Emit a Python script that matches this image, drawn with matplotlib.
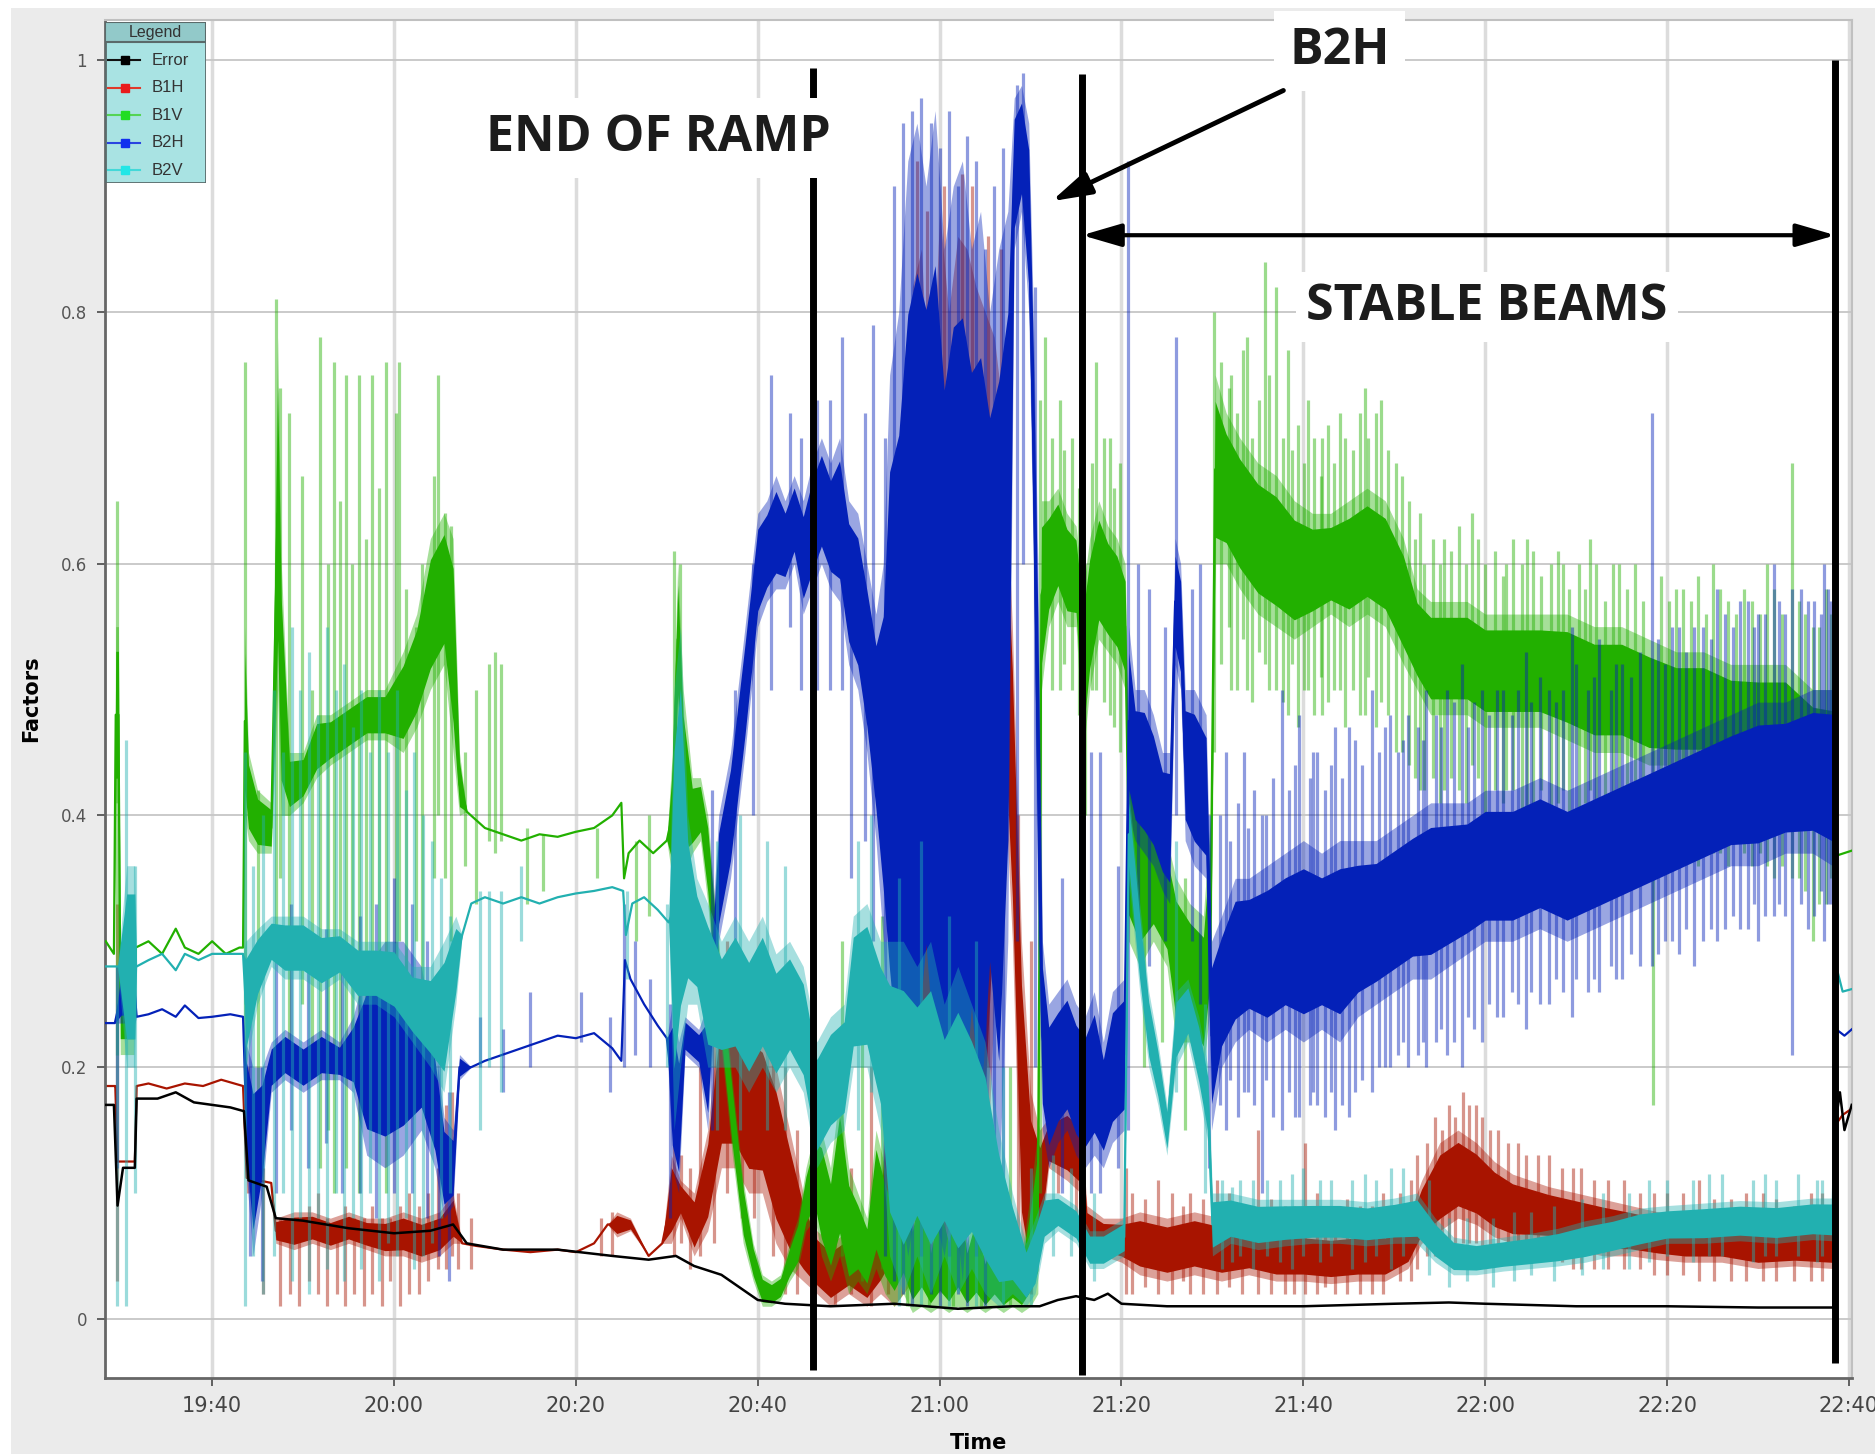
import matplotlib
matplotlib.use('Agg')
import matplotlib.pyplot as plt
import numpy as np
from matplotlib.patches import Rectangle

# ---------------- DATA (time in minutes after 19:00) ----------------
err_t = [28.3, 29.2, 29.6, 30.2, 31.5, 31.7, 34, 36, 38, 40, 42, 43.5, 44.0, 46, 47, 50, 55, 60, 64, 66.5,
         68, 72, 78, 84, 88, 91, 93, 96, 98, 100, 103, 108, 115, 122, 128, 131, 133, 135, 137, 138.5,
         140, 145, 150, 160, 170, 176, 180, 190, 200, 210, 218.3, 218.6, 219, 219.5, 220.3]
err_v = [0.17, 0.17, 0.09, 0.12, 0.12, 0.175, 0.175, 0.18, 0.172, 0.17, 0.168, 0.165, 0.11, 0.105, 0.08,
         0.078, 0.072, 0.068, 0.07, 0.075, 0.06, 0.055, 0.055, 0.05, 0.047, 0.05, 0.042, 0.035, 0.025,
         0.015, 0.012, 0.01, 0.012, 0.008, 0.01, 0.01, 0.015, 0.018, 0.015, 0.02, 0.012, 0.01, 0.01, 0.01,
         0.012, 0.013, 0.012, 0.01, 0.01, 0.009, 0.009, 0.16, 0.18, 0.15, 0.17]

# B1H (red): band envelope
b1h_t = [28.3, 29.2, 29.35, 29.6, 31.5, 31.7, 33, 35, 37, 39, 41, 43.4, 43.8, 46.5, 47, 49, 51, 53, 55, 57,
         59, 61, 63, 65, 66.5, 67.5, 69, 72, 75, 78, 80, 82, 83.5, 84.5, 86, 88, 89.5, 90.5, 91.5, 93,
         94.5, 96, 97.5, 99, 100.5, 102, 103.5, 105, 106.5, 108, 110, 112, 113.5, 115, 116, 117, 118,
         119, 120, 121, 122, 123, 124, 125, 126, 127, 128, 129, 130, 131, 132, 134, 135.5, 136.2, 138,
         140, 142, 145, 148, 151, 154, 157, 160, 163, 166, 169, 171.5, 173, 175, 177, 179, 181, 183,
         185, 187, 190, 193, 196, 199, 202, 206, 210, 214, 218.2, 218.6, 219.3, 220.3]
b1h_lo = [0.185, 0.185, 0.185, 0.125, 0.125, 0.185, 0.187, 0.183, 0.187, 0.185, 0.19, 0.185, 0.112, 0.108,
          0.06, 0.055, 0.06, 0.055, 0.06, 0.055, 0.05, 0.05, 0.045, 0.05, 0.06, 0.06, 0.058, 0.055, 0.053,
          0.055, 0.053, 0.06, 0.075, 0.065, 0.07, 0.05, 0.06, 0.06, 0.08, 0.05, 0.07, 0.12, 0.12, 0.1,
          0.1, 0.06, 0.04, 0.03, 0.02, 0.01, 0.02, 0.01, 0.02, 0.01, 0.02, 0.03, 0.05, 0.03, 0.02, 0.05,
          0.03, 0.1, 0.05, 0.08, 0.25, 0.45, 0.3, 0.05, 0.02, 0.05, 0.12, 0.11, 0.1, 0.05, 0.05, 0.045,
          0.035, 0.03, 0.035, 0.03, 0.035, 0.03, 0.03, 0.028, 0.03, 0.03, 0.04, 0.06, 0.07, 0.08, 0.075,
          0.065, 0.06, 0.06, 0.06, 0.055, 0.05, 0.05, 0.047, 0.045, 0.045, 0.04, 0.042, 0.04, 0.155,
          0.162, 0.167]
b1h_hi = [0.185, 0.185, 0.185, 0.125, 0.125, 0.185, 0.187, 0.183, 0.187, 0.185, 0.19, 0.185, 0.112, 0.108,
          0.08, 0.085, 0.085, 0.08, 0.085, 0.08, 0.08, 0.085, 0.08, 0.085, 0.1, 0.06, 0.058, 0.055, 0.053,
          0.055, 0.053, 0.06, 0.075, 0.085, 0.08, 0.05, 0.06, 0.13, 0.11, 0.1, 0.15, 0.26, 0.26, 0.24,
          0.23, 0.2, 0.15, 0.1, 0.07, 0.06, 0.07, 0.06, 0.1, 0.3, 0.55, 0.82, 0.85, 0.7, 0.88, 0.8, 0.86,
          0.85, 0.82, 0.8, 0.78, 0.72, 0.55, 0.3, 0.18, 0.15, 0.16, 0.17, 0.16, 0.09, 0.08, 0.08, 0.085,
          0.08, 0.085, 0.08, 0.075, 0.07, 0.07, 0.068, 0.07, 0.07, 0.08, 0.11, 0.14, 0.15, 0.14, 0.125,
          0.115, 0.11, 0.105, 0.1, 0.095, 0.09, 0.085, 0.08, 0.08, 0.075, 0.075, 0.075, 0.155, 0.162,
          0.167]
b1h_sp_t = [29.5, 44.0, 45.6, 47.5, 48.6, 49.6, 50.6, 51.6, 52.6, 53.7, 54.6, 55.6, 56.7, 57.6, 58.7, 59.6,
            60.7, 61.6, 62.7, 63.7, 64.8, 65.7, 66.4, 67.0, 68.5, 82.8, 84.0, 90.8, 91.6, 92.5, 93.6, 95.2,
            96.6, 98.3, 99.6, 101.7, 103.0, 104.3, 106.0, 108.5, 110.3, 112.4, 114.3, 117.5, 118.6, 120.5,
            122.5, 123.6, 125.3, 126.8, 128.6, 130.0, 133.0, 135.0, 140.5, 144.0, 147.5, 150.5, 155.0,
            158.0, 160.2, 163.5, 167.5, 170.6, 172.5, 174.5, 176.0, 177.5, 179.0, 180.5, 182.5, 184.5,
            187.0, 190.5, 193.5, 197.0, 200.0, 203.5, 207.0, 210.5, 214.0, 217.0,
            141.2, 142.6, 145.6, 146.8, 149.0, 151.8, 153.2, 156.4, 159.0, 161.5, 162.4, 164.8, 166.2,
            168.8, 171.8, 173.6, 175.2, 176.7, 178.2, 179.6, 181.4, 183.6, 185.8, 188.4, 189.7, 192.0,
            195.3, 198.6, 201.8, 205.2, 208.7, 212.0, 215.8]
b1h_sp_lo = [0.03, 0.1, 0.02, 0.01, 0.02, 0.01, 0.03, 0.02, 0.01, 0.02, 0.01, 0.02, 0.01, 0.02, 0.01, 0.03,
             0.01, 0.02, 0.02, 0.03, 0.04, 0.04, 0.05, 0.04, 0.04, 0.05, 0.05, 0.05, 0.06, 0.04, 0.05, 0.06,
             0.1, 0.08, 0.08, 0.05, 0.02, 0.02, 0.01, 0.01, 0.02, 0.01, 0.02, 0.05, 0.05, 0.05, 0.08, 0.1,
             0.2, 0.3, 0.05, 0.02, 0.1, 0.08, 0.02, 0.02, 0.02, 0.02, 0.02, 0.02, 0.02, 0.02, 0.02, 0.03,
             0.04, 0.05, 0.06, 0.06, 0.06, 0.05, 0.05, 0.05, 0.05, 0.04, 0.04, 0.04, 0.035, 0.03, 0.03,
             0.03, 0.03, 0.03,
             0.02, 0.025, 0.02, 0.03, 0.02, 0.025, 0.02, 0.02, 0.02, 0.02, 0.025, 0.02, 0.02, 0.02, 0.03,
             0.05, 0.05, 0.06, 0.06, 0.05, 0.05, 0.05, 0.045, 0.045, 0.04, 0.04, 0.04, 0.035, 0.035, 0.03,
             0.03, 0.03, 0.03]
b1h_sp_hi = [0.33, 0.2, 0.12, 0.08, 0.08, 0.08, 0.09, 0.1, 0.08, 0.07, 0.09, 0.08, 0.08, 0.09, 0.08, 0.08,
             0.09, 0.1, 0.09, 0.1, 0.12, 0.17, 0.18, 0.1, 0.08, 0.08, 0.085, 0.14, 0.13, 0.12, 0.2, 0.3,
             0.3, 0.28, 0.25, 0.25, 0.2, 0.15, 0.12, 0.1, 0.12, 0.2, 0.25, 0.92, 0.88, 0.9, 0.91, 0.9,
             0.86, 0.85, 0.4, 0.3, 0.18, 0.2, 0.12, 0.11, 0.1, 0.11, 0.15, 0.09, 0.14, 0.09, 0.09, 0.1,
             0.13, 0.16, 0.17, 0.18, 0.17, 0.15, 0.14, 0.13, 0.13, 0.12, 0.11, 0.1, 0.1, 0.11, 0.095, 0.1,
             0.09, 0.1,
             0.1, 0.095, 0.1, 0.09, 0.095, 0.1, 0.09, 0.095, 0.09, 0.1, 0.085, 0.095, 0.09, 0.1, 0.11,
             0.14, 0.15, 0.16, 0.17, 0.16, 0.15, 0.14, 0.13, 0.12, 0.12, 0.11, 0.11, 0.1, 0.1, 0.095,
             0.1, 0.095, 0.1]

# B1V (green)
b1v_t = [28.3, 29.2, 29.4, 29.7, 29.9, 31.4, 31.6, 33, 34.5, 36, 37, 38.5, 40, 41.5, 43, 43.4, 43.6, 44.0,
         45.0, 46.5, 47.2, 47.6, 48.5, 50, 51.5, 53, 55, 57, 59, 61, 62.5, 64, 65.5, 66.5, 67.2, 68, 70, 72,
         74, 76, 78, 80, 82, 84, 85, 85.3, 85.8, 87, 88.5, 90, 90.6, 91.2, 91.8, 92.8, 93.7, 94.5, 95.2,
         96.2, 97.2, 98.4, 99.5, 100.5, 101.5, 102.5, 103.5, 104.4, 105.3, 106.3, 107, 108, 109, 110, 111,
         112, 113, 114, 115, 116, 117, 118, 119, 120, 121, 122, 123, 124, 125, 126, 127, 128, 129, 130,
         130.8, 131.2, 132, 133, 134, 135, 135.8, 136.5, 137.5, 138.5, 139.5, 140.4, 140.8, 142, 143.5,
         145, 146, 147.5, 149, 149.8, 150.3, 151.5, 153, 155, 157, 159, 161, 163, 165, 167, 169, 171,
         172.5, 174, 176, 178, 180, 183, 186, 189, 192, 195, 198, 201, 204, 207, 210, 213, 216, 218.2,
         218.6, 220.3]
b1v_lo = [0.3, 0.29, 0.41, 0.41, 0.21, 0.21, 0.295, 0.3, 0.29, 0.31, 0.295, 0.29, 0.3, 0.29, 0.295, 0.295,
          0.4, 0.38, 0.37, 0.37, 0.5, 0.4, 0.4, 0.41, 0.43, 0.44, 0.45, 0.46, 0.46, 0.45, 0.47, 0.5, 0.52,
          0.45, 0.4, 0.403, 0.39, 0.385, 0.38, 0.385, 0.383, 0.387, 0.39, 0.4, 0.41, 0.35, 0.37, 0.38, 0.37,
          0.38, 0.35, 0.48, 0.35, 0.37, 0.38, 0.33, 0.27, 0.2, 0.13, 0.06, 0.03, 0.01, 0.01, 0.015, 0.03,
          0.04, 0.07, 0.08, 0.05, 0.03, 0.05, 0.02, 0.03, 0.02, 0.04, 0.02, 0.01, 0.02, 0.005, 0.01, 0.005,
          0.01, 0.005, 0.01, 0.005, 0.01, 0.005, 0.01, 0.005, 0.01, 0.005, 0.01, 0.02, 0.5, 0.55, 0.57,
          0.55, 0.55, 0.45, 0.5, 0.54, 0.53, 0.52, 0.5, 0.3, 0.28, 0.3, 0.28, 0.22, 0.22, 0.2, 0.25, 0.6,
          0.6, 0.58, 0.56, 0.55, 0.54, 0.55, 0.56, 0.55, 0.56, 0.55, 0.52, 0.5, 0.48, 0.48, 0.48, 0.47,
          0.47, 0.47, 0.46, 0.45, 0.45, 0.44, 0.44, 0.44, 0.43, 0.42, 0.42, 0.4, 0.38, 0.368, 0.372]
b1v_hi = [0.3, 0.29, 0.55, 0.55, 0.3, 0.3, 0.295, 0.3, 0.29, 0.31, 0.295, 0.29, 0.3, 0.29, 0.295, 0.295,
          0.55, 0.45, 0.42, 0.41, 0.78, 0.6, 0.45, 0.45, 0.48, 0.48, 0.49, 0.5, 0.5, 0.53, 0.56, 0.62, 0.64,
          0.62, 0.45, 0.403, 0.39, 0.385, 0.38, 0.385, 0.383, 0.387, 0.39, 0.4, 0.41, 0.35, 0.37, 0.38, 0.37,
          0.38, 0.45, 0.6, 0.5, 0.43, 0.43, 0.4, 0.34, 0.26, 0.19, 0.11, 0.06, 0.035, 0.03, 0.035, 0.06,
          0.08, 0.12, 0.15, 0.15, 0.12, 0.18, 0.12, 0.1, 0.08, 0.15, 0.12, 0.1, 0.14, 0.08, 0.12, 0.06, 0.1,
          0.07, 0.12, 0.06, 0.09, 0.05, 0.08, 0.05, 0.06, 0.05, 0.1, 0.15, 0.65, 0.65, 0.66, 0.64, 0.63,
          0.58, 0.62, 0.65, 0.63, 0.62, 0.6, 0.45, 0.42, 0.4, 0.38, 0.35, 0.33, 0.32, 0.4, 0.75, 0.72, 0.7,
          0.68, 0.67, 0.65, 0.64, 0.64, 0.65, 0.66, 0.65, 0.62, 0.58, 0.57, 0.57, 0.57, 0.56, 0.56, 0.56,
          0.56, 0.55, 0.55, 0.54, 0.53, 0.53, 0.52, 0.52, 0.52, 0.5, 0.5, 0.368, 0.372]
b1v_sp_t = [29.5, 43.6, 45.0, 47.0, 47.5, 48.4, 49.9, 51.0, 51.9, 52.7, 53.4, 54.1, 54.7, 55.4, 56.1, 56.9,
            57.6, 58.4, 59.1, 60.2, 60.6, 61.3, 62.4, 63.1, 64.4, 64.8, 65.6, 66.3, 67.8, 69.0, 70.4, 71.1,
            71.8, 74.6, 76.4, 82.3, 86.6, 88.0, 90.8, 91.4, 109.3, 111.5, 113.7, 116.4, 118.8, 121.5,
            124.6, 127.7, 131.0, 131.6, 133.2, 134.6, 136.0, 137.2, 138.7, 139.8, 142.5, 144.5, 147.0,
            150.2, 152.0, 153.8, 155.8, 157.0, 158.3, 160.5, 162.0, 164.0, 166.8, 168.0, 170.2, 172.8,
            175.5, 178.5, 182.3, 184.6, 188.5, 191.5, 194.0, 198.5, 201.0, 205.0, 208.5, 211.0, 213.7,
            216.0, 217.5,
            150.9, 151.8, 152.7, 153.4, 154.3, 155.1, 156.2, 157.8, 158.7, 159.4, 160.1, 161.2, 161.9,
            162.7, 163.4, 164.6, 165.5, 166.2, 167.1, 168.5, 169.3, 170.8, 171.6, 172.3, 173.3, 174.3,
            175.0, 176.2, 177.1, 177.9, 179.2, 180.0, 181.1, 182.0, 183.1, 184.0, 185.3, 186.1, 187.2,
            188.0, 189.2, 190.3, 191.0, 192.2, 193.2, 194.7, 195.6, 196.5, 197.3, 199.3, 200.2, 201.7,
            202.6, 203.4, 204.3, 205.8, 206.7, 207.6, 209.3, 210.2, 211.8, 212.6, 214.5, 215.2, 216.7,
            218.0, 132.4, 133.7, 135.3, 136.8, 138.1, 139.2]
b1v_sp_lo = [0.21, 0.19, 0.16, 0.3, 0.35, 0.2, 0.25, 0.2, 0.12, 0.15, 0.1, 0.2, 0.12, 0.2, 0.1, 0.2, 0.15,
             0.25, 0.1, 0.2, 0.3, 0.25, 0.3, 0.25, 0.35, 0.4, 0.35, 0.3, 0.36, 0.33, 0.38, 0.37, 0.38, 0.33,
             0.34, 0.35, 0.3, 0.32, 0.3, 0.35, 0.05, 0.03, 0.04, 0.01, 0.01, 0.01, 0.01, 0.01, 0.1, 0.55,
             0.5, 0.5, 0.4, 0.5, 0.48, 0.45, 0.2, 0.22, 0.15, 0.45, 0.5, 0.5, 0.52, 0.5, 0.48, 0.5, 0.48,
             0.5, 0.48, 0.47, 0.45, 0.42, 0.42, 0.44, 0.42, 0.4, 0.42, 0.42, 0.4, 0.17, 0.38, 0.37, 0.37,
             0.36, 0.35, 0.3, 0.33,
             0.52, 0.55, 0.5, 0.54, 0.49, 0.53, 0.5, 0.49, 0.52, 0.47, 0.5, 0.48, 0.51, 0.49, 0.5, 0.47,
             0.5, 0.48, 0.51, 0.49, 0.48, 0.45, 0.44, 0.43, 0.42, 0.43, 0.41, 0.43, 0.42, 0.41, 0.43, 0.4,
             0.42, 0.41, 0.42, 0.4, 0.41, 0.42, 0.4, 0.41, 0.4, 0.39, 0.41, 0.38, 0.4, 0.39, 0.38, 0.4,
             0.37, 0.38, 0.39, 0.37, 0.39, 0.36, 0.38, 0.37, 0.36, 0.38, 0.36, 0.37, 0.35, 0.36, 0.35,
             0.34, 0.33, 0.35, 0.5, 0.52, 0.48, 0.5, 0.49, 0.47]
b1v_sp_hi = [0.65, 0.76, 0.42, 0.81, 0.74, 0.72, 0.67, 0.5, 0.78, 0.6, 0.76, 0.65, 0.75, 0.6, 0.75, 0.62,
             0.75, 0.66, 0.76, 0.72, 0.76, 0.58, 0.55, 0.6, 0.67, 0.75, 0.64, 0.63, 0.45, 0.5, 0.52, 0.53,
             0.52, 0.39, 0.385, 0.39, 0.38, 0.4, 0.61, 0.6, 0.3, 0.25, 0.32, 0.25, 0.2, 0.3, 0.22, 0.2,
             0.73, 0.78, 0.73, 0.7, 0.6, 0.76, 0.7, 0.68, 0.45, 0.42, 0.35, 0.8, 0.75, 0.78, 0.84, 0.82,
             0.77, 0.73, 0.7, 0.72, 0.74, 0.72, 0.68, 0.64, 0.62, 0.64, 0.6, 0.62, 0.6, 0.62, 0.6, 0.5,
             0.58, 0.6, 0.58, 0.6, 0.68, 0.55, 0.58,
             0.76, 0.74, 0.72, 0.77, 0.7, 0.73, 0.75, 0.7, 0.69, 0.71, 0.68, 0.7, 0.67, 0.71, 0.68, 0.7,
             0.69, 0.72, 0.7, 0.73, 0.69, 0.67, 0.65, 0.62, 0.6, 0.62, 0.6, 0.61, 0.63, 0.6, 0.62, 0.6,
             0.61, 0.59, 0.62, 0.6, 0.61, 0.59, 0.6, 0.61, 0.58, 0.6, 0.58, 0.6, 0.57, 0.6, 0.58, 0.6,
             0.57, 0.59, 0.57, 0.58, 0.57, 0.59, 0.56, 0.58, 0.57, 0.56, 0.57, 0.56, 0.58, 0.56, 0.57,
             0.56, 0.55, 0.56, 0.7, 0.69, 0.66, 0.68, 0.7, 0.66]

# B2H (blue)
b2h_t = [28.3, 29.3, 30.0, 31.5, 31.7, 33, 34.5, 36, 37, 38.5, 40, 42, 43.4, 43.7, 44.5, 45.5, 46.5, 48, 50,
         52, 54, 55.5, 57, 59, 61, 63, 64.5, 65.5, 66.5, 67.2, 68.5, 70, 72, 74, 76, 78, 80, 82, 84, 85.0,
         85.4, 86, 87.5, 89, 90, 90.6, 91.3, 92.0, 93.5, 94.5, 95.7, 97, 98.6, 100, 101, 102, 103, 104,
         105, 106, 107, 108, 109, 110, 111, 112, 113, 113.8, 114.5, 115.5, 116.5, 117.5, 118.5, 119.5,
         120.5, 121.5, 122.5, 123.5, 124.5, 125.5, 126.5, 127.5, 128.2, 129.0, 129.8, 130.3, 130.8,
         131.3, 132, 133, 134, 135, 136, 137, 138, 139, 140.3, 140.8, 141.5, 142.5, 143.5, 144.5, 145.3,
         145.9, 146.5, 147, 148, 149.3, 149.9, 151, 152.5, 154, 156, 158, 160, 162, 164, 166, 168, 170,
         172, 174, 176, 178, 180, 183, 186, 189, 192, 195, 198, 201, 204, 207, 210, 213, 216, 218.2,
         218.6, 219.5, 220.3]
b2h_lo = [0.235, 0.235, 0.235, 0.235, 0.24, 0.242, 0.246, 0.24, 0.249, 0.239, 0.24, 0.242, 0.24, 0.12,
          0.05, 0.1, 0.18, 0.19, 0.18, 0.19, 0.19, 0.18, 0.13, 0.12, 0.13, 0.15, 0.12, 0.08, 0.09, 0.19,
          0.2, 0.205, 0.21, 0.215, 0.22, 0.225, 0.223, 0.227, 0.215, 0.205, 0.285, 0.27, 0.25, 0.233,
          0.223, 0.12, 0.1, 0.21, 0.2, 0.15, 0.3, 0.35, 0.45, 0.55, 0.57, 0.58, 0.58, 0.6, 0.56, 0.58, 0.6,
          0.58, 0.57, 0.52, 0.5, 0.45, 0.38, 0.3, 0.2, 0.1, 0.05, 0.1, 0.2, 0.08, 0.05, 0.1, 0.03, 0.15,
          0.05, 0.2, 0.1, 0.3, 0.85, 0.88, 0.8, 0.6, 0.3, 0.15, 0.12, 0.14, 0.15, 0.13, 0.12, 0.13, 0.12,
          0.14, 0.15, 0.4, 0.38, 0.37, 0.36, 0.34, 0.33, 0.52, 0.5, 0.38, 0.36, 0.35, 0.15, 0.2, 0.22,
          0.23, 0.22, 0.23, 0.22, 0.23, 0.22, 0.24, 0.25, 0.26, 0.27, 0.27, 0.28, 0.29, 0.3, 0.3, 0.31,
          0.3, 0.31, 0.32, 0.33, 0.34, 0.35, 0.36, 0.36, 0.37, 0.37, 0.36, 0.23, 0.225, 0.23]
b2h_hi = [0.235, 0.235, 0.28, 0.28, 0.24, 0.242, 0.246, 0.24, 0.249, 0.239, 0.24, 0.242, 0.24, 0.22, 0.2,
          0.2, 0.22, 0.23, 0.22, 0.23, 0.22, 0.24, 0.28, 0.3, 0.3, 0.28, 0.22, 0.16, 0.15, 0.21, 0.2, 0.205,
          0.21, 0.215, 0.22, 0.225, 0.223, 0.227, 0.215, 0.205, 0.285, 0.27, 0.25, 0.233, 0.223, 0.25,
          0.22, 0.24, 0.23, 0.25, 0.4, 0.45, 0.55, 0.64, 0.65, 0.67, 0.65, 0.67, 0.65, 0.68, 0.7, 0.68,
          0.7, 0.65, 0.64, 0.6, 0.56, 0.6, 0.75, 0.8, 0.92, 0.95, 0.9, 0.96, 0.85, 0.9, 0.92, 0.85, 0.88,
          0.8, 0.85, 0.88, 0.97, 0.98, 0.95, 0.8, 0.6, 0.3, 0.25, 0.26, 0.27, 0.25, 0.24, 0.26, 0.22, 0.26,
          0.27, 0.55, 0.5, 0.5, 0.48, 0.45, 0.45, 0.62, 0.6, 0.5, 0.5, 0.48, 0.3, 0.32, 0.35, 0.35, 0.36,
          0.37, 0.38, 0.37, 0.38, 0.38, 0.38, 0.39, 0.4, 0.41, 0.41, 0.41, 0.42, 0.42, 0.43, 0.42, 0.43,
          0.44, 0.45, 0.46, 0.47, 0.48, 0.49, 0.49, 0.5, 0.5, 0.23, 0.225, 0.23]
b2h_sp_t = [29.5, 44.2, 45.5, 47.0, 48.7, 50.5, 52.5, 54.3, 56.3, 58.0, 60.0, 62.0, 63.6, 65.0, 66.0, 69.5,
            72.0, 75.0, 80.6, 83.8, 85.3, 86.5, 88.2, 90.3, 95.0, 97.5, 99.5, 101.5, 103.5, 104.8, 106.5,
            108.0, 109.3, 110.3, 111.8, 112.7, 114.0, 115.0, 116.0, 117.0, 118.0, 119.0, 120.0, 121.0,
            122.0, 123.0, 124.0, 125.0, 126.0, 127.0, 128.5, 129.2, 130.5, 133.5, 135.5, 136.6, 137.6,
            139.6, 140.7, 141.8, 143.0, 144.8, 146.0, 147.8, 148.6, 149.6, 151.5, 153.5, 155.4, 157.6,
            159.5, 161.5, 163.5, 165.0, 167.5, 169.5, 171.5, 173.5, 175.8, 177.4, 179.6, 182.0, 184.5,
            187.0, 189.5, 192.5, 195.0, 198.3, 200.5, 203.0, 205.5, 208.0, 210.0, 211.8, 213.7, 215.5,
            217.2, 218.0,
            150.8, 151.9, 152.8, 153.9, 154.6, 155.9, 156.7, 158.4, 159.1, 160.7, 161.1, 162.4, 163.0,
            164.3, 165.7, 166.5, 168.3, 169.0, 170.4, 171.0, 172.6, 173.1, 174.6, 175.1, 176.6, 178.1,
            178.8, 180.4, 181.3, 182.9, 183.6, 185.0, 186.0, 187.8, 188.6, 190.0, 191.3, 192.0, 193.8,
            194.4, 196.0, 197.0, 199.0, 199.8, 201.3, 202.1, 204.0, 204.8, 206.4, 207.2, 208.9, 209.5,
            210.8, 212.3, 213.0, 214.7, 216.2, 216.9, 217.7]
b2h_sp_lo = [0.12, 0.05, 0.03, 0.1, 0.15, 0.12, 0.14, 0.1, 0.1, 0.08, 0.1, 0.1, 0.08, 0.05, 0.03, 0.2, 0.18,
             0.2, 0.22, 0.18, 0.2, 0.21, 0.2, 0.08, 0.15, 0.25, 0.4, 0.5, 0.55, 0.5, 0.5, 0.5, 0.5, 0.35,
             0.38, 0.3, 0.05, 0.03, 0.02, 0.01, 0.05, 0.02, 0.01, 0.05, 0.02, 0.01, 0.05, 0.01, 0.05, 0.1,
             0.3, 0.6, 0.2, 0.1, 0.05, 0.1, 0.1, 0.12, 0.15, 0.3, 0.28, 0.3, 0.4, 0.3, 0.25, 0.12, 0.15,
             0.18, 0.1, 0.15, 0.16, 0.17, 0.15, 0.16, 0.18, 0.2, 0.2, 0.2, 0.21, 0.2, 0.22, 0.24, 0.23,
             0.25, 0.24, 0.26, 0.27, 0.28, 0.3, 0.28, 0.3, 0.31, 0.3, 0.32, 0.21, 0.31, 0.3, 0.33,
             0.17, 0.19, 0.16, 0.18, 0.17, 0.19, 0.16, 0.18, 0.16, 0.17, 0.18, 0.16, 0.18, 0.17, 0.18,
             0.19, 0.2, 0.2, 0.21, 0.22, 0.21, 0.22, 0.22, 0.23, 0.22, 0.24, 0.23, 0.25, 0.24, 0.26, 0.25,
             0.26, 0.25, 0.27, 0.26, 0.27, 0.26, 0.27, 0.28, 0.27, 0.29, 0.28, 0.29, 0.3, 0.29, 0.31, 0.3,
             0.31, 0.31, 0.32, 0.31, 0.33, 0.32, 0.33, 0.32, 0.33, 0.32, 0.34, 0.33]
b2h_sp_hi = [0.28, 0.24, 0.2, 0.3, 0.33, 0.3, 0.31, 0.3, 0.32, 0.33, 0.35, 0.33, 0.3, 0.25, 0.18, 0.24, 0.23,
             0.26, 0.26, 0.24, 0.33, 0.3, 0.27, 0.25, 0.42, 0.5, 0.6, 0.75, 0.72, 0.7, 0.73, 0.73, 0.78,
             0.6, 0.72, 0.79, 0.7, 0.9, 0.95, 0.96, 0.97, 0.95, 0.93, 0.96, 0.9, 0.94, 0.92, 0.85, 0.9,
             0.93, 0.98, 0.99, 0.82, 0.35, 0.33, 0.45, 0.45, 0.36, 0.92, 0.6, 0.58, 0.55, 0.78, 0.58, 0.6,
             0.4, 0.45, 0.45, 0.4, 0.5, 0.48, 0.45, 0.47, 0.47, 0.5, 0.48, 0.48, 0.5, 0.5, 0.52, 0.5, 0.5,
             0.53, 0.5, 0.55, 0.54, 0.52, 0.72, 0.55, 0.55, 0.58, 0.57, 0.56, 0.6, 0.58, 0.57, 0.6, 0.57,
             0.4, 0.38, 0.41, 0.39, 0.42, 0.4, 0.43, 0.42, 0.44, 0.43, 0.45, 0.42, 0.44, 0.43, 0.46, 0.44,
             0.45, 0.47, 0.45, 0.46, 0.47, 0.46, 0.48, 0.47, 0.49, 0.47, 0.49, 0.48, 0.5, 0.48, 0.5, 0.49,
             0.51, 0.49, 0.5, 0.52, 0.5, 0.51, 0.5, 0.52, 0.51, 0.53, 0.54, 0.52, 0.55, 0.53, 0.55, 0.54,
             0.56, 0.55, 0.57, 0.55, 0.56, 0.57, 0.56, 0.58, 0.57, 0.56, 0.58]

# B2V (cyan)
b2v_t = [28.3, 29.3, 29.6, 30.6, 31.5, 31.7, 33, 34.5, 36, 37, 38.5, 40, 42, 43.4, 43.7, 45, 46.5, 48, 50,
         52, 54, 56, 58, 60, 62, 64, 65.5, 66.8, 67.5, 68.5, 70, 72, 74, 76, 78, 80, 82, 84, 85.2, 85.5,
         86.2, 87.5, 89, 90.2, 90.8, 91.5, 92.3, 93.3, 94.5, 96, 97.5, 99, 100.5, 102, 103.5, 105, 106.5,
         108, 109.5, 110.5, 112, 113.5, 114.5, 116, 117.5, 119, 120.5, 122, 123.5, 125, 126.5, 128, 129.5,
         130.5, 131.5, 133, 135, 136.5, 138, 140.3, 140.8, 142, 143, 144, 145, 146, 147.3, 148.5, 149.5,
         150, 152, 155, 158, 161, 164, 167, 170, 172.5, 174.5, 176.5, 179, 182, 185, 188, 191, 194, 197,
         200, 204, 208, 212, 216, 218.2, 218.6, 219.3, 220.3]
b2v_lo = [0.28, 0.28, 0.28, 0.2, 0.2, 0.28, 0.285, 0.29, 0.277, 0.29, 0.285, 0.29, 0.29, 0.29, 0.2, 0.25,
          0.28, 0.27, 0.27, 0.26, 0.27, 0.25, 0.25, 0.24, 0.22, 0.2, 0.18, 0.25, 0.305, 0.33, 0.335, 0.33,
          0.335, 0.33, 0.335, 0.338, 0.34, 0.343, 0.34, 0.305, 0.33, 0.335, 0.325, 0.315, 0.15, 0.2, 0.25,
          0.25, 0.2, 0.2, 0.2, 0.18, 0.2, 0.18, 0.2, 0.18, 0.12, 0.14, 0.15, 0.2, 0.2, 0.15, 0.05, 0.02,
          0.05, 0.02, 0.05, 0.02, 0.04, 0.02, 0.01, 0.02, 0.01, 0.02, 0.06, 0.07, 0.06, 0.04, 0.04, 0.05,
          0.35, 0.26, 0.2, 0.17, 0.13, 0.2, 0.22, 0.18, 0.14, 0.05, 0.06, 0.055, 0.058, 0.06, 0.06, 0.058,
          0.06, 0.06, 0.045, 0.035, 0.035, 0.038, 0.04, 0.042, 0.045, 0.05, 0.055, 0.06, 0.06, 0.062,
          0.06, 0.063, 0.062, 0.28, 0.26, 0.262]
b2v_hi = [0.28, 0.28, 0.28, 0.36, 0.36, 0.28, 0.285, 0.29, 0.277, 0.29, 0.285, 0.29, 0.29, 0.29, 0.3, 0.31,
          0.32, 0.32, 0.32, 0.31, 0.31, 0.3, 0.3, 0.3, 0.28, 0.28, 0.3, 0.32, 0.305, 0.33, 0.335, 0.33,
          0.335, 0.33, 0.335, 0.338, 0.34, 0.343, 0.34, 0.305, 0.33, 0.335, 0.325, 0.315, 0.5, 0.55, 0.4,
          0.35, 0.33, 0.3, 0.32, 0.3, 0.32, 0.29, 0.3, 0.28, 0.22, 0.24, 0.25, 0.32, 0.33, 0.3, 0.3, 0.3,
          0.28, 0.3, 0.25, 0.28, 0.25, 0.22, 0.15, 0.1, 0.06, 0.08, 0.1, 0.1, 0.09, 0.07, 0.07, 0.08, 0.42,
          0.33, 0.26, 0.22, 0.17, 0.26, 0.27, 0.24, 0.2, 0.1, 0.1, 0.095, 0.095, 0.095, 0.095, 0.093,
          0.096, 0.1, 0.08, 0.065, 0.062, 0.065, 0.068, 0.072, 0.078, 0.082, 0.088, 0.09, 0.092, 0.094,
          0.093, 0.096, 0.096, 0.28, 0.26, 0.262]
b2v_sp_t = [29.5, 30.5, 31.5, 43.6, 44.5, 45.6, 46.8, 47.8, 48.8, 49.7, 50.7, 51.6, 52.6, 53.6, 54.5, 55.5,
            56.4, 57.4, 58.3, 59.3, 60.3, 61.3, 62.2, 63.2, 64.2, 65.2, 66.2, 69.5, 70.4, 71.8, 74.0, 85.6,
            90.0, 95.5, 98.0, 101.0, 103.0, 111.0, 112.5, 115.5, 118.0, 121.0, 124.0, 127.0, 130.0,
            132.5, 134.5, 137.0, 146.0, 149.2, 153.0, 156.0, 160.0, 163.0, 168.0, 171.0, 178.0, 185.0,
            193.0, 200.0, 206.0, 212.0, 217.0,
            151.0, 152.2, 154.5, 157.4, 158.8, 161.8, 165.4, 166.8, 169.6, 173.8, 176.0, 180.8, 183.2,
            187.6, 190.6, 195.8, 198.0, 202.8, 204.6, 209.4, 210.8, 214.4, 216.5]
b2v_sp_lo = [0.01, 0.01, 0.1, 0.01, 0.05, 0.02, 0.05, 0.1, 0.03, 0.08, 0.02, 0.08, 0.04, 0.1, 0.03, 0.08,
             0.04, 0.1, 0.03, 0.06, 0.05, 0.08, 0.04, 0.05, 0.06, 0.08, 0.1, 0.15, 0.2, 0.18, 0.3, 0.27,
             0.2, 0.15, 0.15, 0.15, 0.15, 0.15, 0.18, 0.01, 0.01, 0.01, 0.01, 0.01, 0.01, 0.05, 0.05, 0.03,
             0.18, 0.1, 0.05, 0.05, 0.05, 0.05, 0.05, 0.05, 0.03, 0.035, 0.04, 0.05, 0.05, 0.05, 0.05,
             0.04, 0.045, 0.04, 0.045, 0.04, 0.045, 0.04, 0.045, 0.04, 0.035, 0.025, 0.025, 0.03, 0.03,
             0.035, 0.04, 0.045, 0.045, 0.05, 0.045, 0.05, 0.05, 0.045]
b2v_sp_hi = [0.28, 0.46, 0.36, 0.45, 0.36, 0.4, 0.5, 0.45, 0.55, 0.5, 0.53, 0.48, 0.55, 0.5, 0.52, 0.47,
             0.5, 0.45, 0.5, 0.45, 0.5, 0.42, 0.45, 0.4, 0.38, 0.35, 0.32, 0.34, 0.34, 0.34, 0.36, 0.34,
             0.33, 0.38, 0.4, 0.38, 0.36, 0.38, 0.4, 0.35, 0.38, 0.32, 0.3, 0.2, 0.12, 0.13, 0.12, 0.1,
             0.38, 0.25, 0.11, 0.11, 0.12, 0.11, 0.11, 0.12, 0.08, 0.085, 0.1, 0.11, 0.115, 0.11, 0.11,
             0.11, 0.105, 0.11, 0.11, 0.115, 0.11, 0.11, 0.115, 0.12, 0.11, 0.08, 0.08, 0.085, 0.09, 0.095,
             0.1, 0.11, 0.11, 0.115, 0.11, 0.115, 0.115, 0.11]

tick_minutes = [40, 60, 80, 100, 120, 140, 160, 180, 200, 220]
tick_labels = ['19:40', '20:00', '20:20', '20:40', '21:00', '21:20', '21:40', '22:00', '22:20', '22:40']
ytick_vals = [0, 0.2, 0.4, 0.6, 0.8, 1.0]
ytick_labels = ['0', '0.2', '0.4', '0.6', '0.8', '1']
legend_labels = ['Error', 'B1H', 'B1V', 'B2H', 'B2V']

# annotation data: end of ramp, start and end of stable beams
marker_times = [106.05, 135.65, 218.5]
marker_tops = [0.994, 0.989, 1.0]
marker_bottoms = [-0.041, -0.045, -0.035]

# ---------------- FIGURE ----------------
W, H = 1875, 1454
fig = plt.figure(figsize=(W / 100, H / 100), dpi=100)
fig.patch.set_facecolor('#ebebeb')
fig.add_artist(Rectangle((0, 0), 11 / W, 1, transform=fig.transFigure, facecolor='white', edgecolor='none'))
fig.add_artist(Rectangle((0, 1 - 8 / H), 1, 8 / H, transform=fig.transFigure, facecolor='white', edgecolor='none'))

ax = fig.add_axes([105 / W, (H - 1378) / H, (1852 - 105) / W, (1378 - 20) / H])
ax.set_facecolor('white')
ax.set_xlim(28.22, 220.33)
ax.set_ylim(-0.047, 1.032)

for v in tick_minutes:
    ax.axvline(v, color='#dcdcdc', lw=2.5, zorder=0)
for v in ytick_vals:
    ax.axhline(v, color='#c6c6c6', lw=1.3, zorder=0)

C_RED = '#a81400'
C_GRN = '#22b000'
C_BLU = '#0421b8'
C_CYN = '#22b0b0'


def band(t, lo, hi, color, z):
    t = np.asarray(t, float)
    lo = np.asarray(lo, float)
    hi = np.asarray(hi, float)
    d = hi - lo
    ax.fill_between(t, lo, hi, color=color, alpha=0.4, lw=0, zorder=z)
    ax.fill_between(t, lo + 0.14 * d, hi - 0.14 * d, color=color, lw=0, zorder=z + 0.1)
    ax.plot(t, (lo + hi) / 2, color=color, lw=1.6, zorder=z + 0.1)


def spikes(t, lo, hi, color, z):
    ax.vlines(t, lo, hi, color=color, alpha=0.45, lw=2.3, zorder=z)


spikes(b1h_sp_t, b1h_sp_lo, b1h_sp_hi, C_RED, 2)
band(b1h_t, b1h_lo, b1h_hi, C_RED, 2.2)
spikes(b1v_sp_t, b1v_sp_lo, b1v_sp_hi, C_GRN, 3)
band(b1v_t, b1v_lo, b1v_hi, C_GRN, 3.2)
spikes(b2h_sp_t, b2h_sp_lo, b2h_sp_hi, C_BLU, 4)
band(b2h_t, b2h_lo, b2h_hi, C_BLU, 4.2)
spikes(b2v_sp_t, b2v_sp_lo, b2v_sp_hi, C_CYN, 5)
band(b2v_t, b2v_lo, b2v_hi, C_CYN, 5.2)
ax.plot(err_t, err_v, color='black', lw=1.8, zorder=6)

# ticks and labels
ax.set_xticks(tick_minutes)
ax.set_xticklabels(tick_labels, family=['Liberation Sans Narrow', 'DejaVu Sans'], fontsize=15, color='#444444')
ax.set_yticks(ytick_vals)
ax.set_yticklabels(ytick_labels, fontsize=12, color='#555555')
ax.tick_params(axis='both', direction='out', length=6, width=1.3, color='#555555', pad=7)
ax.set_xlabel('Time', family=['Liberation Sans Narrow', 'DejaVu Sans'], fontweight='bold', fontsize=15, labelpad=12)
ax.set_ylabel('Factors', family=['Liberation Sans Narrow', 'DejaVu Sans'], fontweight='bold', fontsize=15, labelpad=14)
for s in ['left', 'bottom']:
    ax.spines[s].set_color('#666666')
    ax.spines[s].set_linewidth(2)
for s in ['top', 'right']:
    ax.spines[s].set_color('#c0c0c0')
    ax.spines[s].set_linewidth(1.5)

# annotations
for tm, yb, yt in zip(marker_times, marker_bottoms, marker_tops):
    ax.plot([tm, tm], [yb, yt], color='black', lw=5, solid_capstyle='butt', zorder=20, clip_on=False)

afont = dict(family=['Open Sans', 'DejaVu Sans'], fontweight='bold', color='#1c1c1c', fontsize=36)
ax.text(89.1, 0.938, 'END OF RAMP', ha='center', va='center',
        bbox=dict(boxstyle='square,pad=0.3', fc='white', ec='none'), zorder=21, **afont)
ax.text(164.0, 1.007, 'B2H', ha='center', va='center', clip_on=False,
        bbox=dict(boxstyle='square,pad=0.3', fc='white', ec='none'), zorder=22, **afont)
ax.text(180.2, 0.804, 'STABLE BEAMS', ha='center', va='center',
        bbox=dict(boxstyle='square,pad=0.2', fc='white', ec='none'), zorder=21, **afont)
ax.annotate('', xy=(132.3, 0.888), xytext=(157.8, 0.976), annotation_clip=False,
            arrowprops=dict(arrowstyle='-|>,head_length=1.2,head_width=0.35', lw=3.5, color='black',
                            mutation_scale=20, shrinkA=0, shrinkB=0), zorder=23)
ax.annotate('', xy=(marker_times[1], 0.861), xytext=(marker_times[2], 0.861),
            arrowprops=dict(arrowstyle='<|-|>,head_length=1.2,head_width=0.35', lw=3, color='black',
                            mutation_scale=20, shrinkA=0, shrinkB=0), zorder=23)

# legend (manual, JFreeChart style)
lg = fig.add_axes([105 / W, (H - 183) / H, 101 / W, 161 / H])
lg.set_xlim(0, 101)
lg.set_ylim(161, 0)
lg.axis('off')
lg.add_patch(Rectangle((0, 0), 101, 161, facecolor='#a9e3e3', edgecolor='#5a6a6a', lw=2))
lg.add_patch(Rectangle((0, 0), 101, 20, facecolor='#92c9c9', edgecolor='#5a6a6a', lw=1.5))
lg.text(50, 10.5, 'Legend', ha='center', va='center', fontsize=11.5, color='#333333',
        family=['Liberation Sans', 'DejaVu Sans'])
leg_line_colors = ['#111111', '#e0392a', '#55d455', '#2a45e0', '#44d8d8']
leg_marker_colors = ['#000000', '#e81c1c', '#22dd22', '#1030ee', '#22e6e6']
for i, (lab, lc, mc) in enumerate(zip(legend_labels, leg_line_colors, leg_marker_colors)):
    yy = 38.5 + i * 27.4
    lg.plot([3, 35], [yy, yy], color=lc, lw=1.5)
    lg.plot([20], [yy], marker='s', ms=5.8, color=mc, mec=mc)
    lg.text(47, yy, lab, ha='left', va='center', fontsize=12, color='#333333',
            family=['Liberation Sans', 'DejaVu Sans'])

fig.savefig('out.png', dpi=100, facecolor=fig.get_facecolor())
